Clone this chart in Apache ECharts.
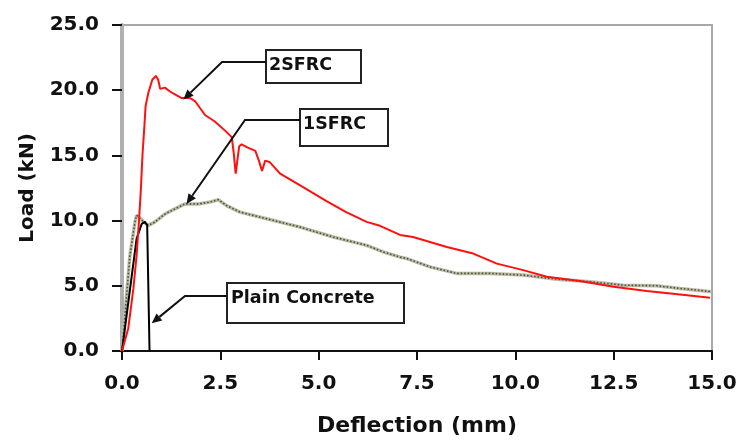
<!DOCTYPE html>
<html>
<head>
<meta charset="utf-8">
<script src="https://cdn.jsdelivr.net/npm/echarts@6/dist/echarts.min.js"></script>
<style>
html,body{margin:0;padding:0;background:#fff;}
#chart{width:741px;height:442px;}
</style>
</head>
<body>
<div id="chart"></div>
<script>
// Data
const xTicks = [0, 2.5, 5, 7.5, 10, 12.5, 15];
const yTicks = [0, 5, 10, 15, 20, 25];

const plainX = [0, 0.37, 0.5, 0.58, 0.64, 0.70];
const plainY = [0, 8.6, 9.75, 9.9, 9.65, 0];

const twoX = [0, 0.16, 0.29, 0.37, 0.43, 0.48, 0.52, 0.57, 0.60, 0.67, 0.77, 0.86, 0.92, 0.97, 1.09, 1.22, 1.39, 1.52, 1.73, 1.86, 2.11, 2.36, 2.62, 2.79, 2.84, 2.89, 2.94, 2.98, 3.04, 3.20, 3.39, 3.48, 3.56, 3.64, 3.75, 4.02, 4.53, 5.20, 5.70, 6.22, 6.56, 7.07, 7.40, 8.26, 8.93, 9.53, 10.2, 10.8, 11.64, 12.5, 13.34, 14.19, 14.95];
const twoY = [0, 1.75, 4.8, 7.3, 9.9, 12.4, 15.0, 17.3, 18.8, 19.8, 20.8, 21.1, 20.8, 20.1, 20.2, 19.9, 19.6, 19.4, 19.4, 19.15, 18.1, 17.6, 16.9, 16.4, 15.2, 13.6, 14.8, 15.7, 15.85, 15.6, 15.35, 14.6, 13.8, 14.6, 14.5, 13.6, 12.7, 11.5, 10.65, 9.9, 9.6, 8.9, 8.74, 7.98, 7.47, 6.7, 6.2, 5.69, 5.36, 4.93, 4.6, 4.34, 4.09];

const oneX = [0, 0.2, 0.33, 0.37, 0.43, 0.55, 0.67, 0.83, 1.09, 1.26, 1.6, 1.94, 2.2, 2.45, 2.66, 3.0, 3.68, 4.53, 5.37, 6.22, 6.64, 7.07, 7.24, 7.83, 8.51, 9.36, 10.2, 11.05, 11.9, 12.74, 13.59, 14.19, 14.99];
const oneY = [0, 7.3, 9.9, 10.4, 10.27, 9.9, 9.63, 9.88, 10.5, 10.77, 11.28, 11.28, 11.4, 11.6, 11.15, 10.65, 10.14, 9.5, 8.74, 8.1, 7.6, 7.2, 7.09, 6.45, 5.95, 5.95, 5.82, 5.51, 5.31, 5.05, 5.0, 4.8, 4.55];

const annoLabels = ['2SFRC', '1SFRC', 'Plain Concrete'];
const annoTipX = [1.56, 1.64, 0.755];
const annoTipY = [19.28, 11.28, 2.13];

// Layout of the annotation boxes (pixels)
const annoLayout = [
  {x: 266, y: 50, w: 95, h: 33, lineY: 62, elbowX: 222, tx: 269, ty: 65},
  {x: 300, y: 109, w: 88, h: 37, lineY: 120, elbowX: 245, tx: 303, ty: 124},
  {x: 227, y: 283, w: 177, h: 40, lineY: 296, elbowX: 185, tx: 231, ty: 298}
];

function pairs(xs, ys) { return xs.map((x, i) => [x, ys[i]]); }

const FONT = 'DejaVu Sans';
const chart = echarts.init(document.getElementById('chart'), null, {renderer: 'canvas'});

const option = {
  animation: false,
  backgroundColor: '#fff',
  grid: {left: 122, right: 29, top: 25, bottom: 89, show: true, borderColor: '#a8a8a8', borderWidth: 2, backgroundColor: 'transparent'},
  xAxis: {
    type: 'value', min: xTicks[0], max: xTicks[xTicks.length - 1], interval: 2.5,
    name: 'Deflection (mm)', nameLocation: 'middle', nameGap: 64,
    nameTextStyle: {fontFamily: FONT, fontWeight: 'bold', fontSize: 22, color: '#111'},
    axisLine: {show: true, lineStyle: {color: '#111', width: 2}},
    axisTick: {show: true, inside: false, length: 9, lineStyle: {color: '#111', width: 2}},
    axisLabel: {fontFamily: FONT, fontWeight: 'bold', fontSize: 20, color: '#111', margin: 23,
      formatter: v => v.toFixed(1)},
    splitLine: {show: false}
  },
  yAxis: {
    type: 'value', min: yTicks[0], max: yTicks[yTicks.length - 1], interval: 5,
    name: 'Load (kN)', nameLocation: 'middle', nameGap: 84, nameRotate: 90,
    nameTextStyle: {fontFamily: FONT, fontWeight: 'bold', fontSize: 20, color: '#111'},
    axisLine: {show: true, lineStyle: {color: '#b0b0b0', width: 4}},
    axisTick: {show: true, inside: false, length: 10, lineStyle: {color: '#111', width: 2}},
    axisLabel: {fontFamily: FONT, fontWeight: 'bold', fontSize: 20, color: '#111', margin: 23,
      formatter: v => v.toFixed(1)},
    splitLine: {show: false}
  },
  series: [
    {name: '1SFRC', type: 'line', data: pairs(oneX, oneY), showSymbol: false, smooth: false,
      lineStyle: {color: '#bcbca6', width: 3.5}, z: 2},
    {name: '1SFRC dots', type: 'line', data: pairs(oneX, oneY), showSymbol: false, smooth: false,
      lineStyle: {color: '#4d4d3c', width: 1.6, type: [1.5, 2]}, z: 3},
    {name: 'Plain Concrete', type: 'line', data: pairs(plainX, plainY), showSymbol: false, smooth: false,
      lineStyle: {color: '#000', width: 2}, z: 4},
    {name: '2SFRC', type: 'line', data: pairs(twoX, twoY), showSymbol: false, smooth: false,
      lineStyle: {color: '#ff1010', width: 2}, z: 5}
  ]
};
chart.setOption(option);

// Annotations: box + elbow leader line + arrowhead pointing at data coordinate
const elements = [];
annoLabels.forEach((label, i) => {
  const L = annoLayout[i];
  const tip = chart.convertToPixel({gridIndex: 0}, [annoTipX[i], annoTipY[i]]);
  elements.push({type: 'rect', shape: {x: L.x, y: L.y, width: L.w, height: L.h},
    style: {fill: '#fff', stroke: '#222', lineWidth: 2}, z: 100});
  elements.push({type: 'text', x: L.tx, y: L.ty,
    style: {text: label, fill: '#111', font: 'bold 17.5px "' + FONT + '"', textVerticalAlign: 'middle', textAlign: 'left'}, z: 101});
  const dx = tip[0] - L.elbowX, dy = tip[1] - L.lineY;
  const len = Math.sqrt(dx * dx + dy * dy);
  const ux = dx / len, uy = dy / len;
  const ah = 10, aw = 4.5;
  const base = [tip[0] - ux * ah, tip[1] - uy * ah];
  elements.push({type: 'polyline', shape: {points: [[L.x, L.lineY], [L.elbowX, L.lineY], base]},
    style: {stroke: '#111', lineWidth: 2, fill: null}, z: 100});
  elements.push({type: 'polygon', shape: {points: [tip, [base[0] - uy * aw, base[1] + ux * aw], [base[0] + uy * aw, base[1] - ux * aw]]},
    style: {fill: '#111'}, z: 100});
});
chart.setOption({graphic: {elements: elements}});
</script>
</body>
</html>
